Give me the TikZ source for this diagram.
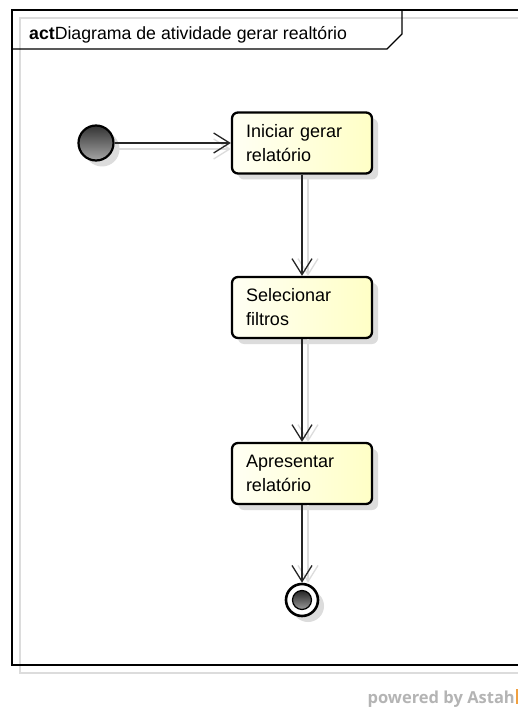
\documentclass[tikz,border=0pt]{standalone}
\usepackage{fontspec}
\setmainfont{Liberation Sans}
\newfontfamily\brandfont{Open Sans}
\usetikzlibrary{arrows.meta,shadows,calc}

\definecolor{actfillA}{HTML}{FFFFF4}
\definecolor{actfillB}{HTML}{FFFFC6}
\definecolor{shadowgray}{HTML}{DCDCDC}
\definecolor{brandgray}{HTML}{B4B4B4}
\definecolor{brandorange}{HTML}{F0A040}

\tikzset{
  actbox/.style={draw=black, line width=2.3pt, rounded corners=6pt,
    left color=actfillA, right color=actfillB,
    minimum width=140pt, minimum height=61pt,
    text width=112pt, inner xsep=14pt, align=left,
    font=\fontsize{18}{24}\selectfont,
    drop shadow={shadow xshift=6pt, shadow yshift=-6pt, fill=shadowgray, opacity=1}},
  flow/.style={draw=black!85, line width=1.1pt,
    -{Straight Barb[length=16pt, width=20pt, line width=1.3pt]}},
  flowshadow/.style={draw=shadowgray, line width=1.1pt,
    -{Straight Barb[length=16pt, width=20pt, line width=1.3pt]}},
}

\begin{document}
\begin{tikzpicture}[x=1pt, y=-1pt]
  \useasboundingbox (0,0) rectangle (518,711);
  \fill[white] (0,0) rectangle (518,711);
  \begin{scope}
  \clip (0,0) rectangle (518,711);

  % frame and its shadow
  \draw[shadowgray, line width=1.4pt] (20,18) rectangle (560,673);
  \draw[black, line width=1.4pt] (12,10) rectangle (550,665);
  \draw[black, line width=1.2pt] (12,49) -- (387,49) -- (402,34) -- (402,10);
  \node[anchor=base west, inner sep=0pt, font=\fontsize{17.7}{22}\selectfont]
    (title) at (29,40) {\textbf{act}Diagrama de atividade gerar realtório};

  % initial node
  \fill[shadowgray] (102,149) circle (17.5);
  \node[circle, minimum size=35pt, inner sep=0pt, draw=black, line width=2.2pt,
        top color=black!80, bottom color=black!35] (start) at (96,143) {};

  % actions
  \node[actbox] (a1) at (302,143) {Iniciar gerar relatório};
  \node[actbox] (a2) at (302,307.5) {Selecionar filtros};
  \node[actbox] (a3) at (302,473.5) {Apresentar relatório};

  % final node
  \fill[shadowgray] (308,606) circle (16);
  \node[circle, minimum size=32pt, inner sep=0pt, draw=black, line width=2.6pt,
        fill=white] (final) at (302,600) {};
  \node[circle, minimum size=19pt, inner sep=0pt, draw=black, line width=1.2pt,
        top color=black!85, bottom color=black!40] (finaldot) at (302,600) {};

  % connector shadows
  \draw[flowshadow] ([shift={(0,6)}]start.east) -- ([shift={(0,6)}]a1.west);
  \draw[flowshadow] ([shift={(6,0)}]a1.south) -- ([shift={(6,0)}]a2.north);
  \draw[flowshadow] ([shift={(6,0)}]a2.south) -- ([shift={(6,0)}]a3.north);
  \draw[flowshadow] ([shift={(6,0)}]a3.south) -- ([shift={(6,0)}]final.north);

  % connectors
  \draw[flow] (start.east) -- (a1.west);
  \draw[flow] (a1.south) -- (a2.north);
  \draw[flow] (a2.south) -- (a3.north);
  \draw[flow] (a3.south) -- (final.north);

  % footer
  \node[anchor=base east, inner sep=0pt, text=brandgray,
        font=\brandfont\bfseries\fontsize{16.5}{20}\selectfont] (brand) at (515,703) {powered by Astah};
  \fill[brandorange] (516,689) rectangle (518,704);
  \end{scope}
\end{tikzpicture}
\end{document}
